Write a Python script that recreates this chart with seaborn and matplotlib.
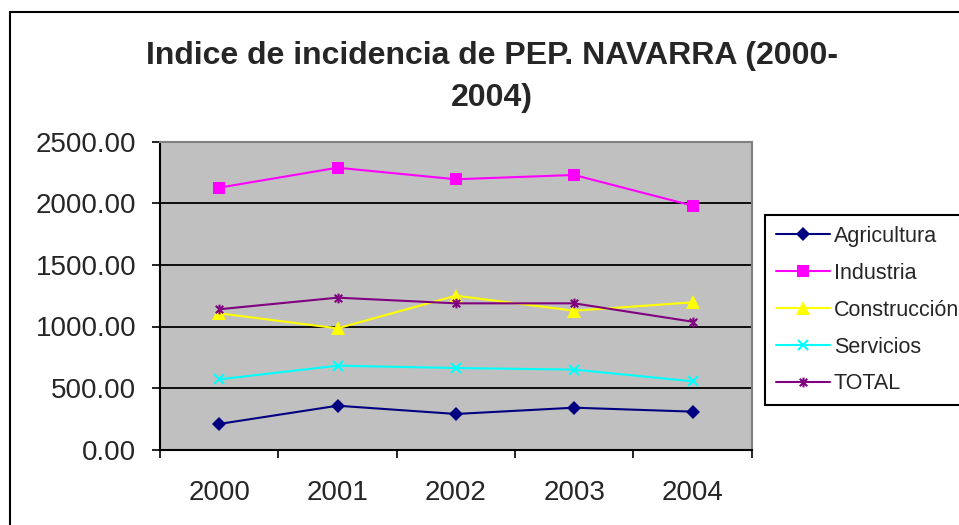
import numpy as np
import pandas as pd
import matplotlib
matplotlib.use("Agg")
import matplotlib.pyplot as plt
from matplotlib.path import Path
from matplotlib.patches import Rectangle
import seaborn as sns

# values
anios = ['2000', '2001', '2002', '2003', '2004']
agricultura = [209, 357, 290, 341, 309]
industria = [2127, 2289, 2195, 2230, 1981]
construccion = [1107, 985, 1250, 1128, 1196]
servicios = [571, 682, 663, 650, 555]
total = [1140, 1234, 1188, 1188, 1039]

series = {
    'Agricultura': agricultura,
    'Industria': industria,
    'Construcción': construccion,
    'Servicios': servicios,
    'TOTAL': total,
}

# long-form table for seaborn
df = pd.DataFrame([
    {'pos': i, 'anio': a, 'serie': nombre, 'valor': v}
    for nombre, vals in series.items()
    for i, (a, v) in enumerate(zip(anios, vals))
])

sns.set_style("white")
plt.rcParams['font.family'] = ['Liberation Sans', 'DejaVu Sans']

# excel-like star marker: an x with a vertical bar through it
star = Path([(-1, -1), (1, 1), (-1, 1), (1, -1), (0, -1.3), (0, 1.3)],
            [Path.MOVETO, Path.LINETO, Path.MOVETO, Path.LINETO, Path.MOVETO, Path.LINETO])

estilos = {
    'Agricultura': dict(color='#000080', marker='D', ms=7.5, mew=0),
    'Industria': dict(color='#FF00FF', marker='s', ms=8.5, mew=0),
    'Construcción': dict(color='#FFFF00', marker='^', ms=10, mew=0),
    'Servicios': dict(color='#00FFFF', marker='x', ms=7, mew=1.5),
    'TOTAL': dict(color='#800080', marker=star, ms=7, mew=1.5),
}

fig = plt.figure(figsize=(9.59, 5.25), dpi=100)
ax = fig.add_axes([160 / 959, 1 - 449.7 / 525, (751.7 - 160) / 959, (449.7 - 141.7) / 525])
ax.set_facecolor('#C0C0C0')

for nombre in series:
    st = estilos[nombre]
    sub = df[df['serie'] == nombre]
    sns.lineplot(data=sub, x='pos', y='valor', ax=ax, color=st['color'],
                 marker=st['marker'], markersize=st['ms'], markeredgewidth=st['mew'],
                 markeredgecolor=st['color'], linewidth=1.5, label=nombre)

ax.set_xlim(-0.5, 4.5)
ax.set_ylim(0, 2500)
ax.set_xlabel('')
ax.set_ylabel('')

ax.set_yticks(np.arange(0, 2501, 500))
ax.set_yticklabels([f'{v:.2f}' for v in np.arange(0, 2501, 500)])
ax.set_xticks(range(len(anios)))
ax.set_xticklabels(anios)
ax.set_xticks(np.arange(-0.5, 4.6, 1), minor=True)
ax.tick_params(axis='x', which='major', length=0, pad=22, labelsize=20)
ax.tick_params(axis='x', which='minor', length=6, width=1.2, direction='out', color='black', bottom=True)
ax.tick_params(axis='y', which='major', length=6, width=1.2, direction='out', color='black',
               pad=11, labelsize=20, left=True)

for y in [500, 1000, 1500, 2000]:
    ax.axhline(y, color='black', linewidth=1.3, zorder=1)

ax.spines['left'].set_color('black')
ax.spines['bottom'].set_color('black')
ax.spines['left'].set_linewidth(1.5)
ax.spines['bottom'].set_linewidth(1.5)
ax.spines['top'].set_color('#808080')
ax.spines['right'].set_color('#808080')
ax.spines['top'].set_linewidth(1.5)
ax.spines['right'].set_linewidth(1.5)

fig.text(492 / 959, 1 - 77 / 525, 'Indice de incidencia de PEP. NAVARRA (2000-\n2004)',
         ha='center', va='center', fontsize=23, fontweight='bold', linespacing=1.55)

handles, labels = ax.get_legend_handles_labels()
leg = ax.legend(handles, labels, loc='upper left', bbox_to_anchor=(765 / 959, 1 - 215 / 525),
                bbox_transform=fig.transFigure, borderaxespad=0, frameon=True, fancybox=False,
                fontsize=15.5, handlelength=2.5, handletextpad=0.2, labelspacing=0.74,
                borderpad=0.5, framealpha=1)
leg.get_frame().set_edgecolor('black')
leg.get_frame().set_linewidth(1.5)

# outer chart-area border
fig.patches.append(Rectangle((10 / 959, -0.1), 1.2, 1 - 12 / 525 + 0.1, transform=fig.transFigure,
                             fill=False, edgecolor='black', linewidth=1.5, figure=fig))

fig.savefig('out.png', dpi=100)
